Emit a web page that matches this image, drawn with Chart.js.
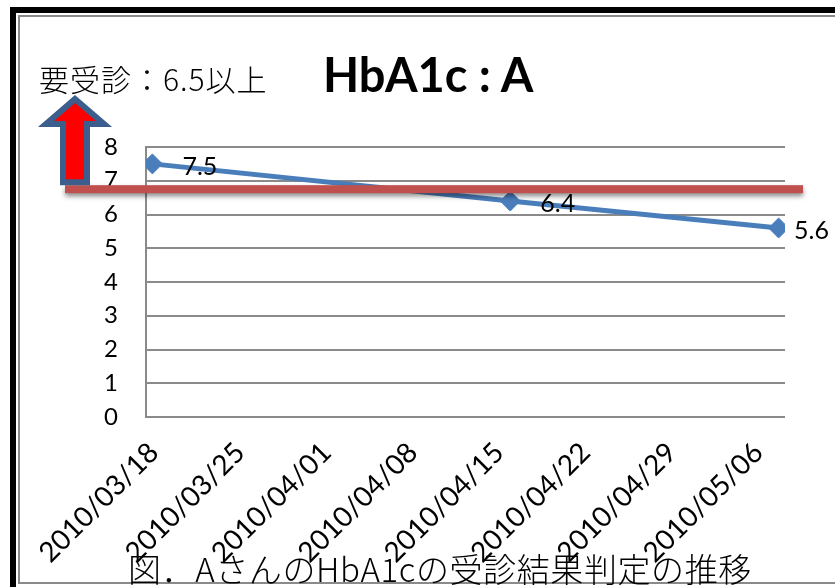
<!DOCTYPE html>
<html>
<head>
<meta charset="utf-8">
<script src="https://cdn.jsdelivr.net/npm/chart.js@4/dist/chart.umd.min.js"></script>
<style>
    body { margin: 0; background: #fff; }
    #wrap { position: relative; width: 835px; height: 587px; overflow: hidden; background: #fff; }
    #frame_outer { position: absolute; left: 10px; top: 7px; width: 1000px; height: 700px; border-left: 6px solid #000; border-top: 6px solid #000; }
    #frame_inner { position: absolute; left: 18px; top: 15px; width: 1000px; height: 565px; border: 2px solid #8a8a8a; }
    #chart { position: absolute; left: 0; top: 0; }
    .txt { position: absolute; white-space: nowrap; color: #000; line-height: 1; }
    #title { left: 323px; top: 46px; font: bold 47px Lato, sans-serif; }
    #rule { left: 39px; top: 56px; font: 300 30px "Noto Sans CJK JP", sans-serif; letter-spacing: 1px; }
    #caption { left: 0; width: 880px; text-align: center; top: 544px; font: 300 33px "Noto Sans CJK JP", sans-serif; letter-spacing: 0.6px; }
</style>
</head>
<body>
<div id="wrap">
    <div id="frame_outer"></div>
    <div id="frame_inner"></div>
    <canvas id="chart" width="835" height="587"></canvas>
    <div class="txt" id="rule">要受診：6.5以上</div>
    <div class="txt" id="title">HbA1c : A</div>
    <div class="txt" id="caption">図．AさんのHbA1cの受診結果判定の推移</div>
</div>
<script>
const tickLabels = ['2010/03/18', '2010/03/25', '2010/04/01', '2010/04/08',
    '2010/04/15', '2010/04/22', '2010/04/29', '2010/05/06']
const dates = ['2010/03/18', '2010/04/15', '2010/05/06']
const values = [7.5, 6.4, 5.6]
const guide_value = 6.75

// day number counted from the first tick
function day_of(s) {
    let p = s.split('/')
    let d = Date.UTC(+p[0], +p[1] - 1, +p[2])
    let p0 = tickLabels[0].split('/')
    return Math.round((d - Date.UTC(+p0[0], +p0[1] - 1, +p0[2])) / 86400000)
}

let points = []
for (let i = 0; i < dates.length; i++) {
    points.push({ x: day_of(dates[i]), y: values[i] })
}
let tick_days = tickLabels.map(day_of)

const blue = '#4a7ebb'
const grid_grey = '#8a8a8a'

let decorations = {
    id: 'decorations',
    afterDatasetsDraw(chart) {
        let ctx = chart.ctx
        let meta = chart.getDatasetMeta(0)
        ctx.save()
        ctx.font = '25px Lato'
        ctx.fillStyle = '#000'
        ctx.textBaseline = 'middle'
        for (let i = 0; i < meta.data.length; i++) {
            let pt = meta.data[i]
            let s = String(values[i])
            let w = ctx.measureText(s).width
            let x = Math.min(pt.x + 30, chart.width - w - 6)
            ctx.fillText(s, x, pt.y + 3)
        }
        ctx.restore()
    },
    afterDraw(chart) {
        let ctx = chart.ctx
        let a = chart.chartArea
        let y = chart.scales.y.getPixelForValue(guide_value)

        // red guide bar
        ctx.save()
        ctx.shadowColor = 'rgba(0,0,0,0.45)'
        ctx.shadowBlur = 5
        ctx.shadowOffsetY = 3
        ctx.fillStyle = '#c0504d'
        ctx.fillRect(a.left - 81, y - 4, a.right - a.left + 99, 8)
        ctx.restore()

        // up arrow
        let cx = a.left - 71
        let tip = 95
        let base = 127
        let bottom = y - 4
        ctx.save()
        ctx.beginPath()
        ctx.moveTo(cx, tip + 4)
        ctx.lineTo(cx + 29, base - 3)
        ctx.lineTo(cx + 12, base - 3)
        ctx.lineTo(cx + 12, bottom - 3)
        ctx.lineTo(cx - 12, bottom - 3)
        ctx.lineTo(cx - 12, base - 3)
        ctx.lineTo(cx - 29, base - 3)
        ctx.closePath()
        ctx.fillStyle = '#ff0000'
        ctx.fill()
        ctx.lineWidth = 6
        ctx.lineJoin = 'miter'
        ctx.strokeStyle = '#3b5e8c'
        ctx.stroke()
        ctx.restore()
    }
}

new Chart(document.getElementById('chart').getContext('2d'), {
    type: 'line',
    data: {
        datasets: [{
            data: points,
            xAxisID: 'x',
            borderColor: blue,
            backgroundColor: blue,
            borderWidth: 5,
            pointStyle: 'rectRot',
            pointRadius: 10,
            pointBorderWidth: 1,
            pointBackgroundColor: blue,
            pointBorderColor: blue,
            tension: 0
        }]
    },
    options: {
        responsive: false,
        animation: false,
        layout: { padding: { left: 20, top: 147, right: 50, bottom: 0 } },
        plugins: { legend: { display: false }, tooltip: { enabled: false } },
        scales: {
            // date axis that places the points
            x: {
                type: 'linear',
                display: false,
                min: -0.5,
                max: tick_days[tick_days.length - 1] + 0.5
            },
            // label axis, spaced a bit tighter as in the original
            x2: {
                type: 'linear',
                position: 'bottom',
                min: -0.09,
                max: 7.31,
                afterBuildTicks: (scale) => {
                    scale.ticks = tickLabels.map((s, i) => ({ value: i }))
                },
                afterFit: (scale) => { scale.height = 170 },
                grid: { display: false },
                border: { display: false },
                ticks: {
                    autoSkip: false,
                    minRotation: 45,
                    maxRotation: 45,
                    padding: 11,
                    color: '#000',
                    font: { family: 'Lato', size: 28 },
                    callback: (v, i) => tickLabels[i]
                }
            },
            y: {
                min: 0,
                max: 8,
                afterFit: (scale) => { scale.width = 126 },
                grid: { color: grid_grey, lineWidth: 2, drawTicks: false },
                border: { display: true, color: grid_grey, width: 2 },
                ticks: {
                    stepSize: 1,
                    padding: 28,
                    color: '#000',
                    font: { family: 'Lato', size: 24 }
                }
            }
        }
    },
    plugins: [decorations]
})
</script>
</body>
</html>
